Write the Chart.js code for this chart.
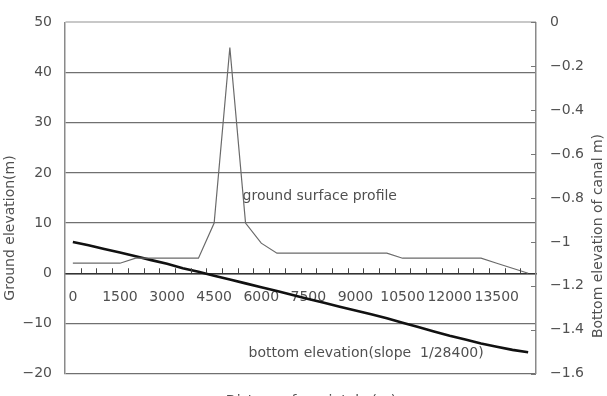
<!DOCTYPE html>
<html lang="en">
<head>
  <meta charset="utf-8">
  <title>Ground and canal bottom elevation</title>
  <script src="https://cdn.jsdelivr.net/npm/chart.js@4.4.1/dist/chart.umd.min.js"></script>
  <style>
    html, body { margin: 0; padding: 0; background: #fff; overflow: hidden; }
  </style>
</head>
<body>
  <canvas id="profileChart" width="607" height="396"></canvas>
  <script>
    // Distance along the canal (m), one category every 500 m
    const distances = [0, 500, 1000, 1500, 2000, 2500, 3000, 3500, 4000, 4500,
      5000, 5500, 6000, 6500, 7000, 7500, 8000, 8500, 9000, 9500,
      10000, 10500, 11000, 11500, 12000, 12500, 13000, 13500, 14000, 14500];

    // Ground elevation (m), left axis
    const groundElevation = [2, 2, 2, 2, 3, 3, 3, 3, 3, 10,
      45, 10, 6, 4, 4, 4, 4, 4, 4, 4,
      4, 3, 3, 3, 3, 3, 3, 2, 1, 0];

    // Canal bottom elevation (m), right axis
    const bottomElevation = [-1.000, -1.015, -1.032, -1.048, -1.065, -1.083, -1.100, -1.120, -1.136, -1.154,
      -1.171, -1.189, -1.207, -1.224, -1.242, -1.260, -1.277, -1.295, -1.313, -1.330,
      -1.348, -1.368, -1.388, -1.408, -1.428, -1.445, -1.463, -1.478, -1.492, -1.503];

    const FONT = '"DejaVu Sans", Arial, sans-serif';
    const TEXT = '#505050';
    const GRID = '#707070';

    const fmt = v => (Math.round(v * 10) / 10).toString().replace('-', '\u2212');

    // extra drawing: small tick marks, notes and axis titles
    const extras = {
      id: 'extras',
      afterDatasetsDraw(chart) {
        const { ctx, chartArea, scales } = chart;
        const x = scales.x, y = scales.y, y2 = scales.y2;
        const zero = y.getPixelForValue(0);
        ctx.save();
        ctx.strokeStyle = '#444';
        ctx.lineWidth = 1;
        // category tick marks pointing up from the zero line
        for (let i = 1; i < distances.length; i++) {
          const px = Math.round((x.getPixelForValue(i - 1) + x.getPixelForValue(i)) / 2) + 0.5;
          ctx.beginPath();
          ctx.moveTo(px, zero);
          ctx.lineTo(px, zero - 5);
          ctx.stroke();
        }
        // right axis tick marks inside the plot
        ctx.strokeStyle = '#777';
        y2.ticks.forEach(t => {
          const py = Math.round(y2.getPixelForValue(t.value)) + 0.5;
          ctx.beginPath();
          ctx.moveTo(chartArea.right - 5, py);
          ctx.lineTo(chartArea.right, py);
          ctx.stroke();
        });

        ctx.fillStyle = TEXT;
        ctx.font = '14px ' + FONT;
        ctx.textBaseline = 'middle';
        ctx.textAlign = 'left';
        ctx.fillText('ground surface profile', x.getPixelForValue(11) - 3, y.getPixelForValue(15.3));
        ctx.fillText('bottom elevation(slope  1/28400)', x.getPixelForValue(11) + 3, y2.getPixelForValue(-1.507));

        ctx.textAlign = 'center';
        ctx.fillText('Distance from intake(m)', 311, chartArea.bottom + 28);

        ctx.translate(10, 228);
        ctx.rotate(-Math.PI / 2);
        ctx.fillText('Ground elevation(m)', 0, 0);
        ctx.rotate(Math.PI / 2);
        ctx.translate(-10, -228);

        ctx.translate(598, 236);
        ctx.rotate(-Math.PI / 2);
        ctx.fillText('Bottom elevation of canal m)', 0, 0);
        ctx.restore();
      }
    };

    const ctx = document.getElementById('profileChart').getContext('2d');
    new Chart(ctx, {
      type: 'line',
      data: {
        labels: distances,
        datasets: [
          {
            label: 'ground surface profile',
            data: groundElevation,
            yAxisID: 'y',
            borderColor: '#6a6a6a',
            borderWidth: 1.2,
            pointRadius: 0,
            tension: 0
          },
          {
            label: 'bottom elevation',
            data: bottomElevation,
            yAxisID: 'y2',
            borderColor: '#111',
            borderWidth: 2.6,
            pointRadius: 0,
            tension: 0
          }
        ]
      },
      options: {
        responsive: false,
        animation: false,
        layout: { padding: { top: 16, bottom: 18, left: 0, right: 0 } },
        plugins: {
          legend: { display: false },
          tooltip: { enabled: false }
        },
        scales: {
          x: {
            type: 'category',
            offset: true,
            position: { y: 0 },
            grid: { display: false, drawTicks: false },
            border: { display: true, color: '#333', width: 1.5 },
            ticks: {
              autoSkip: false,
              maxRotation: 0,
              minRotation: 0,
              padding: 16,
              color: TEXT,
              font: { family: FONT, size: 14 },
              callback: (v, i) => (i % 3 === 0 ? String(distances[i]) : '')
            }
          },
          y: {
            position: 'left',
            min: -20,
            max: 50,
            afterFit: s => { s.width = 65; },
            grid: {
              drawTicks: false,
              color: c => (c.tick.value === 50 ? '#c8c8c8' : GRID),
              lineWidth: c => (c.tick.value === 50 ? 2 : 1.3)
            },
            border: { color: '#8a8a8a', width: 1.5 },
            ticks: {
              stepSize: 10,
              padding: 13,
              color: TEXT,
              font: { family: FONT, size: 14 },
              callback: v => fmt(v)
            }
          },
          y2: {
            position: 'right',
            min: -1.6,
            max: 0,
            afterFit: s => { s.width = 71; },
            grid: { drawOnChartArea: false, drawTicks: false },
            border: { color: '#8a8a8a', width: 1.5 },
            ticks: {
              stepSize: 0.2,
              padding: 14,
              color: TEXT,
              font: { family: FONT, size: 14 },
              callback: v => fmt(v)
            }
          }
        }
      },
      plugins: [extras]
    });
  </script>
</body>
</html>
